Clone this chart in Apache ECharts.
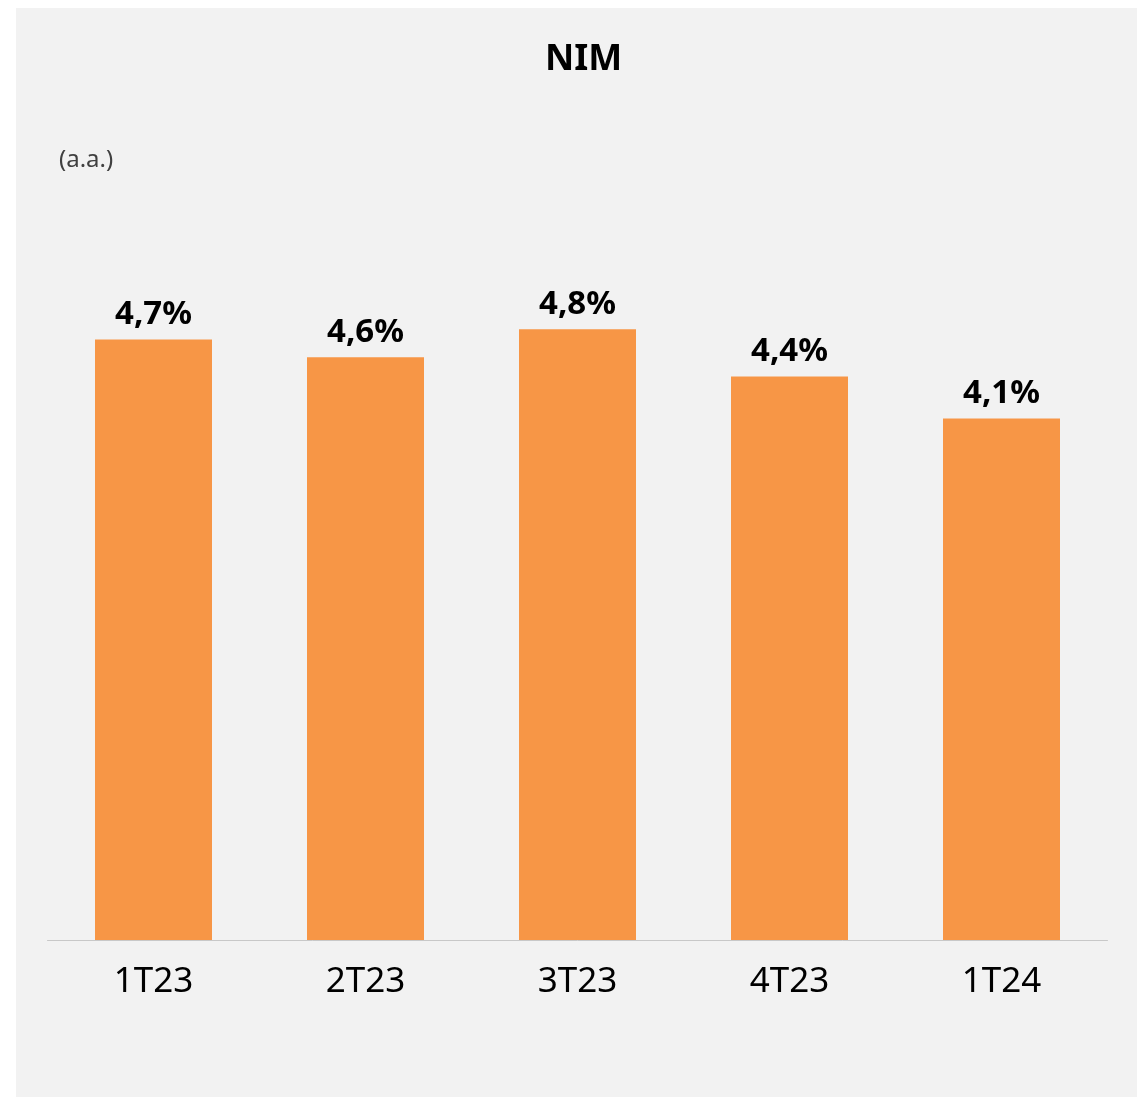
<!DOCTYPE html>
<html>
<head>
<meta charset="utf-8">
<script src="https://cdn.jsdelivr.net/npm/echarts@6/dist/echarts.min.js"></script>
<style>
  html, body { margin: 0; padding: 0; background: #ffffff; }
  #chart { position: absolute; left: 16px; top: 8px; width: 1121px; height: 1089px; background: #f2f2f2; }
</style>
</head>
<body>
<div id="chart"></div>
<script>
  // quarters and NIM (% a.a.)
  var quarters = ['1T23', '2T23', '3T23', '4T23', '1T24'];
  var nim = [4.71, 4.57, 4.79, 4.42, 4.09];

  var fontFam = '"Noto Sans", "Open Sans", sans-serif';

  var myChart = echarts.init(document.getElementById('chart'));
  var option = {
    backgroundColor: '#f2f2f2',
    title: [{
      text: 'NIM',
      left: 524,
      top: 29,
      textStyle: { fontFamily: fontFam, fontSize: 36, fontWeight: 'bold', color: '#000' }
    }, {
      text: '(a.a.)',
      left: 38,
      top: 135,
      textStyle: { fontFamily: fontFam, fontSize: 24, fontWeight: 'normal', color: '#404040' }
    }],
    grid: {
      left: 31.5,
      right: 29.5,
      top: 218,
      bottom: 157
    },
    xAxis: {
      type: 'category',
      data: quarters,
      axisLine: { lineStyle: { color: '#c8c8c8', width: 1 } },
      axisTick: { show: false },
      axisLabel: { fontFamily: fontFam, fontSize: 35, color: '#000', margin: 25 }
    },
    yAxis: {
      type: 'value',
      min: 0,
      max: 5.6,
      show: false,
      splitLine: { show: false }
    },
    series: [{
      type: 'bar',
      data: nim,
      barWidth: 117,
      itemStyle: { color: '#f79646' },
      label: {
        show: true,
        position: 'top',
        distance: 8,
        fontFamily: fontFam,
        fontSize: 33,
        fontWeight: 'bold',
        color: '#000',
        formatter: function (p) { return p.value.toFixed(1).replace('.', ',') + '%'; }
      }
    }]
  };
  myChart.setOption(option);
</script>
</body>
</html>
